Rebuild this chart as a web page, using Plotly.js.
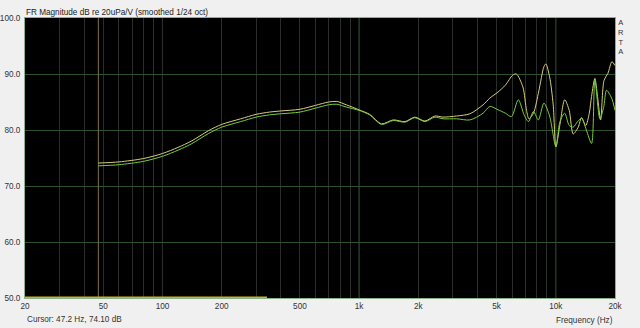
<!DOCTYPE html>
<html><head><meta charset="utf-8">
<script src="https://cdn.plot.ly/plotly-3.0.1.min.js"></script>
<style>html,body{margin:0;padding:0;background:#f0f0f0;overflow:hidden}</style>
</head><body><div id="chart" style="width:640px;height:328px"></div>
<script>
// Frequency (Hz) and level (dB)
const freqUpper = [47.2, 60, 80, 100, 120, 140, 172, 200, 250, 300, 350, 400, 500, 600, 700, 770, 860, 1000, 1130, 1300, 1490, 1710, 1920, 2160, 2430, 2670, 3130, 3660, 4270, 4620, 5090, 5540, 6040, 6300, 6800, 7100, 7300, 7700, 8200, 8700, 8900, 9300, 9700, 10012, 10500, 11100, 11700, 12260, 13000, 13520, 14200, 14800, 15200, 15800, 16300, 16900, 17600, 18400, 19300, 20000];
const dbUpper = [74.1, 74.3, 74.9, 75.8, 76.9, 78.0, 79.9, 81.0, 82.0, 82.8, 83.2, 83.4, 83.7, 84.4, 85.0, 85.1, 84.5, 83.6, 82.8, 81.1, 81.8, 81.5, 82.3, 81.6, 82.5, 82.3, 82.5, 82.9, 84.5, 85.7, 86.8, 88.0, 89.8, 90.0, 87.7, 83.5, 82.0, 83.0, 87.0, 91.3, 91.8, 89.5, 84.5, 77.0, 81.0, 85.4, 83.5, 79.3, 80.5, 82.2, 80.8, 83.0, 86.0, 89.2, 86.0, 81.8, 88.9, 90.1, 92.2, 91.5];
const freqLower = [47.2, 60, 80, 100, 120, 140, 172, 200, 250, 300, 350, 400, 500, 600, 700, 770, 860, 1000, 1130, 1300, 1490, 1710, 1920, 2160, 2430, 2670, 3130, 3660, 4270, 4620, 5090, 5540, 5950, 6450, 6900, 7260, 7700, 8150, 8700, 9300, 10012, 10500, 11100, 11700, 12260, 12900, 13520, 14300, 15200, 15800, 16760, 17500, 18120, 19220, 20000];
const dbLower = [73.6, 73.8, 74.4, 75.3, 76.4, 77.5, 79.4, 80.5, 81.5, 82.3, 82.7, 82.9, 83.2, 83.9, 84.5, 84.6, 84.1, 83.5, 82.7, 81.0, 81.7, 81.4, 82.2, 81.5, 82.3, 82.0, 82.0, 81.8, 83.0, 84.2, 83.6, 83.0, 82.4, 85.4, 82.7, 81.5, 83.3, 81.8, 84.8, 82.5, 77.0, 81.5, 83.0, 80.8, 80.5, 81.5, 82.1, 80.0, 77.6, 88.9, 82.0, 84.0, 87.1, 85.7, 83.5];
const cursorHz = 47.2;
const cursorRange = [50, 100];
const bandFreq = [20, 340];
const bandLevel = [50, 50];
const xTickVals = [20, 50, 100, 200, 500, 1000, 2000, 5000, 10000, 20000];
const xTickText = ['20', '50', '100', '200', '500', '1k', '2k', '5k', '10k', '20k'];
const yTickVals = [50, 60, 70, 80, 90, 100];
const decades = [100, 1000, 10000];

const FONT = 'Liberation Sans, Arial, sans-serif';
const minorVals = [];
[10, 100, 1000, 10000].forEach(d => { for (let m = 1; m <= 9; m++) { const v = d * m; if (v >= 20 && v <= 20000) minorVals.push(v); } });

const traces = [
  {x: [cursorHz, cursorHz], y: cursorRange, mode: 'lines', line: {color: 'rgb(125,115,70)', width: 1}, hoverinfo: 'skip'},
  {x: bandFreq, y: bandLevel, mode: 'lines', line: {color: 'rgb(200,180,40)', width: 3}, hoverinfo: 'skip'},
  {x: freqUpper, y: dbUpper, mode: 'lines', line: {color: 'rgb(215,205,120)', width: 1, shape: 'spline', smoothing: 0.8}},
  {x: freqLower, y: dbLower, mode: 'lines', line: {color: 'rgb(120,205,60)', width: 1, shape: 'spline', smoothing: 0.8}}
];

const PX = v => (v - 25) / 590;
const PY = v => (298 - v) / 280;
const ann = [
  {text: 'Cursor: 47.2 Hz, 74.10 dB', xref: 'paper', yref: 'paper', x: 0, y: PY(319), xanchor: 'left', yanchor: 'middle', showarrow: false, font: {family: FONT, size: 8.2, color: '#333'}},
  {text: 'Frequency (Hz)', xref: 'paper', yref: 'paper', x: 1, y: PY(320), xanchor: 'right', yanchor: 'middle', showarrow: false, font: {family: FONT, size: 8.2, color: '#333'}},
  {text: 'A<br>R<br>T<br>A', xref: 'paper', yref: 'paper', x: PX(621), y: PY(36.5), xanchor: 'center', yanchor: 'middle', showarrow: false, font: {family: FONT, size: 7.5, color: '#333'}}
];

const shapes = decades.map(d => ({type: 'line', xref: 'x', yref: 'paper', x0: d, x1: d, y0: 0, y1: 1, layer: 'below', line: {color: 'rgb(70,95,70)', width: 1}}));

const layout = {
  width: 640, height: 328,
  margin: {l: 25, r: 25, t: 18, b: 30, pad: 0},
  paper_bgcolor: '#f0f0f0', plot_bgcolor: '#000000',
  showlegend: false, hovermode: false,
  font: {family: FONT, size: 8.2, color: '#333'},
  title: {text: 'FR Magnitude dB re 20uPa/V (smoothed 1/24 oct)', x: 26 / 640, xanchor: 'left', xref: 'container', y: 1 - 12.5 / 328, yanchor: 'middle', yref: 'container', font: {family: FONT, size: 8.2, color: '#222'}},
  xaxis: {type: 'log', range: [Math.log10(20), Math.log10(20000)], tickmode: 'array', tickvals: xTickVals, ticktext: xTickText, showgrid: false, zeroline: false, ticks: '', showline: true, mirror: true, linecolor: 'rgb(140,175,140)', linewidth: 1, ticklabelstandoff: 0,
    minor: {tickmode: 'array', tickvals: minorVals, showgrid: true, gridcolor: 'rgb(42,46,42)', gridwidth: 1, ticks: ''}},
  yaxis: {range: [50, 100], tickmode: 'array', tickvals: yTickVals, tickformat: '.1f', showgrid: true, gridcolor: 'rgb(45,80,45)', gridwidth: 1, zeroline: false, ticks: '', showline: true, mirror: true, linecolor: 'rgb(140,175,140)', linewidth: 1, ticklabelstandoff: 2},
  shapes: shapes,
  annotations: ann
};
Plotly.newPlot('chart', traces, layout, {displayModeBar: false, staticPlot: true});
</script></body></html>
